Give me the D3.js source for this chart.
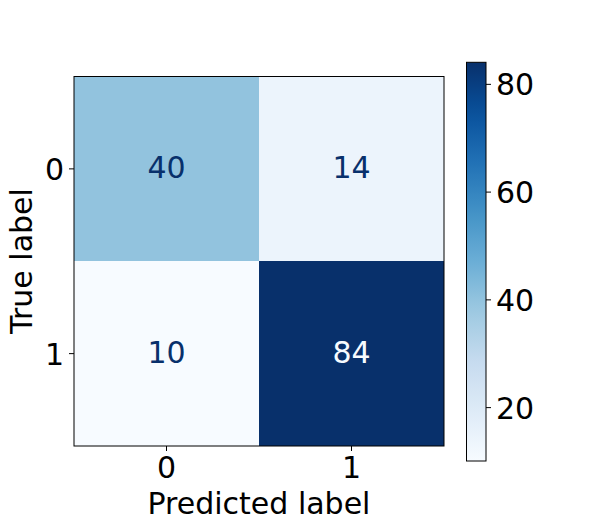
<!DOCTYPE html>
<html>
<head>
<meta charset="utf-8">
<script src="https://cdn.jsdelivr.net/npm/d3@7"></script>
<style>
  html, body { margin: 0; padding: 0; background: #fff; }
  svg { display: block; font-family: "DejaVu Sans", sans-serif; }
</style>
</head>
<body>
<svg id="chart" width="594" height="518"></svg>
<script>
// ---- data ----
const predictedLabels = ["0", "1"];
const trueLabels = ["0", "1"];
const row0 = [40, 14];
const row1 = [10, 84];
const matrixRows = [row0, row1];
const colorbarTicks = [20, 40, 60, 80];
const bluesStops = ["#f7fbff", "#deebf7", "#c6dbef", "#9ecae1", "#6baed6", "#4292c6", "#2171b5", "#08519c", "#08306b"];

const cells = [];
matrixRows.forEach((row, i) => row.forEach((v, j) => cells.push({ t: trueLabels[i], p: predictedLabels[j], v })));
const allVals = cells.map(d => d.v);
const vmin = d3.min(allVals), vmax = d3.max(allVals);

const svg = d3.select("#chart");
const FS = 30;

// scales
const x = d3.scaleBand().domain(predictedLabels).range([74, 444]);
const y = d3.scaleBand().domain(trueLabels).range([76.5, 446]);
const norm = d3.scaleLinear().domain([vmin, vmax]).range([0, 1]);
const blues = d3.scaleLinear()
  .domain(bluesStops.map((_, i) => i / (bluesStops.length - 1)))
  .range(bluesStops)
  .interpolate(d3.interpolateRgb);
const color = v => blues(norm(v));

// cells
svg.append("g").selectAll("rect").data(cells).join("rect")
  .attr("x", d => x(d.p)).attr("y", d => y(d.t))
  .attr("width", x.bandwidth()).attr("height", y.bandwidth())
  .attr("fill", d => color(d.v))
  .attr("shape-rendering", "crispEdges");

const thresh = (vmax + vmin) / 2;
svg.append("g").selectAll("text").data(cells).join("text")
  .attr("x", d => x(d.p) + x.bandwidth() / 2)
  .attr("y", d => y(d.t) + y.bandwidth() / 2 + 0.364 * FS - 2)
  .attr("text-anchor", "middle")
  .attr("font-size", FS)
  .attr("fill", d => d.v < thresh ? blues(1) : blues(0))
  .text(d => d.v);

// frame
svg.append("rect")
  .attr("x", 74).attr("y", 76.5).attr("width", 370).attr("height", 369.5)
  .attr("fill", "none").attr("stroke", "#000").attr("stroke-width", 1);

// axes
const xAxis = svg.append("g").attr("transform", "translate(0,446)")
  .call(d3.axisBottom(x).tickSize(5).tickPadding(5));
xAxis.select(".domain").remove();
xAxis.selectAll("text").attr("font-size", FS).attr("fill", "#000")
  .attr("font-family", "DejaVu Sans").attr("dy", null).attr("y", 32);

const yAxis = svg.append("g").attr("transform", "translate(74,0)")
  .call(d3.axisLeft(y).tickSize(5).tickPadding(5));
yAxis.select(".domain").remove();
yAxis.selectAll("text").attr("font-size", FS).attr("fill", "#000")
  .attr("font-family", "DejaVu Sans").attr("dy", (0.364 * FS) + "px");

// axis titles
svg.append("text").attr("x", 259).attr("y", 514)
  .attr("text-anchor", "middle").attr("font-size", FS).attr("fill", "#000")
  .text("Predicted label");
svg.append("text").attr("transform", "translate(32,261) rotate(-90)")
  .attr("text-anchor", "middle").attr("font-size", FS).attr("fill", "#000")
  .text("True label");

// colorbar
const cbX = 466.5, cbW = 19.5;
const cb = d3.scaleLinear().domain([vmin, vmax]).range([461, 62.3]);
const defs = svg.append("defs");
const grad = defs.append("linearGradient").attr("id", "cbgrad")
  .attr("x1", 0).attr("y1", 1).attr("x2", 0).attr("y2", 0);
d3.range(0, 1.0001, 0.05).forEach(t => {
  grad.append("stop").attr("offset", t).attr("stop-color", blues(t));
});
svg.append("rect")
  .attr("x", cbX).attr("y", cb(vmax)).attr("width", cbW).attr("height", cb(vmin) - cb(vmax))
  .attr("fill", "url(#cbgrad)").attr("stroke", "#000").attr("stroke-width", 1);

const cbAxis = svg.append("g").attr("transform", `translate(${cbX + cbW},0)`)
  .call(d3.axisRight(cb).tickValues(colorbarTicks).tickSize(5).tickPadding(5));
cbAxis.select(".domain").remove();
cbAxis.selectAll("text").attr("font-size", FS).attr("fill", "#000")
  .attr("font-family", "DejaVu Sans").attr("dy", (0.364 * FS) + "px");
</script>
</body>
</html>
